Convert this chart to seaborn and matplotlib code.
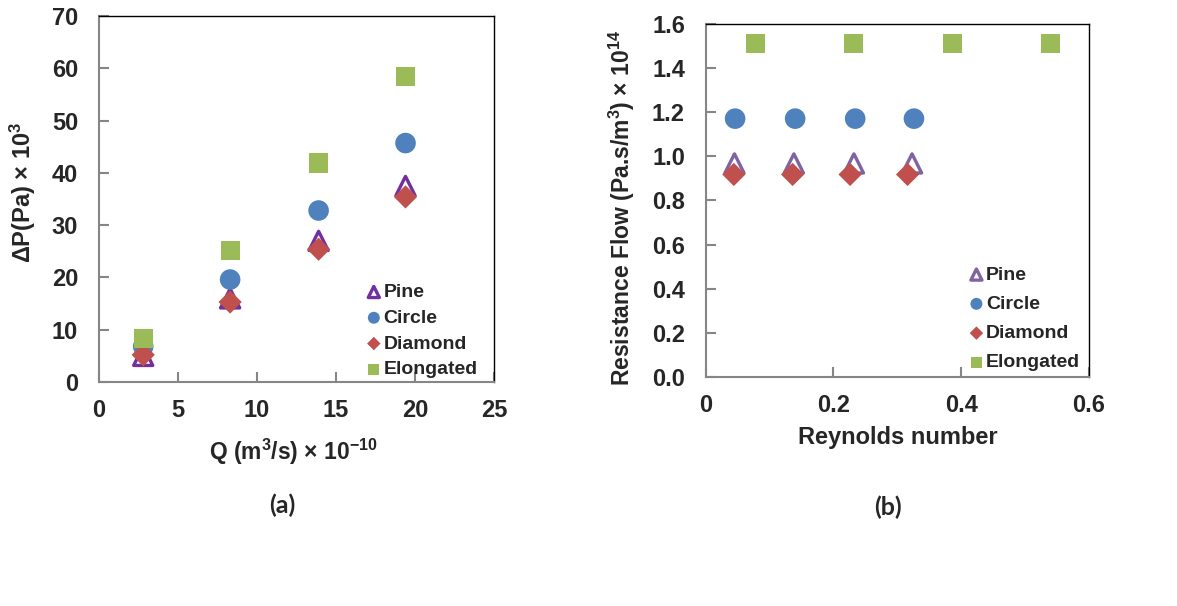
import numpy as np
import pandas as pd
import matplotlib
matplotlib.use('Agg')
import matplotlib.pyplot as plt
import seaborn as sns

# ---- data ----
series = ['Pine', 'Circle', 'Diamond', 'Elongated']

# (a) pressure drop vs flow rate
q_flow = [2.8, 8.3, 13.9, 19.4]
dp_pine = [5.0, 16.0, 27.0, 37.5]
dp_circle = [6.8, 19.6, 32.8, 45.7]
dp_diamond = [5.2, 15.3, 25.4, 35.4]
dp_elong = [8.4, 25.1, 41.9, 58.4]

# (b) flow resistance vs Reynolds number
re_pine = [0.045, 0.138, 0.232, 0.323]
re_circle = [0.046, 0.140, 0.234, 0.326]
re_diamond = [0.044, 0.136, 0.226, 0.316]
re_elong = [0.078, 0.232, 0.387, 0.540]
rf_pine = [0.968, 0.968, 0.968, 0.968]
rf_circle = [1.171, 1.171, 1.171, 1.171]
rf_diamond = [0.918, 0.918, 0.918, 0.918]
rf_elong = [1.511, 1.511, 1.511, 1.511]

xticks_a = [0, 5, 10, 15, 20, 25]
yticks_a = [0, 10, 20, 30, 40, 50, 60, 70]
xticks_b = [0, 0.2, 0.4, 0.6]
yticks_b = [0.0, 0.2, 0.4, 0.6, 0.8, 1.0, 1.2, 1.4, 1.6]

df_a = pd.DataFrame({
    'x': q_flow * 4,
    'y': dp_pine + dp_circle + dp_diamond + dp_elong,
    'shape': np.repeat(series, 4),
})
df_b = pd.DataFrame({
    'x': re_pine + re_circle + re_diamond + re_elong,
    'y': rf_pine + rf_circle + rf_diamond + rf_elong,
    'shape': np.repeat(series, 4),
})

sns.set_style('white')
plt.rcParams['font.family'] = ['Liberation Sans', 'DejaVu Sans']
plt.rcParams['font.weight'] = 'bold'
plt.rcParams['mathtext.fontset'] = 'custom'
plt.rcParams['mathtext.rm'] = 'Liberation Sans:bold'
plt.rcParams['mathtext.bf'] = 'Liberation Sans:bold'
plt.rcParams['mathtext.default'] = 'rm'

styles_a = {
    'Pine': dict(marker='^', s=190, facecolor='none', edgecolor='#7030A0', linewidth=2.4),
    'Circle': dict(marker='o', s=220, color='#4F81BD', edgecolor='none'),
    'Diamond': dict(marker='D', s=140, color='#C0504D', edgecolor='none'),
    'Elongated': dict(marker='s', s=190, color='#9BBB59', edgecolor='none'),
}
styles_b = dict(styles_a)
styles_b['Pine'] = dict(marker='^', s=190, facecolor='none', edgecolor='#8064A2', linewidth=2.4)

fig = plt.figure(figsize=(11.77, 6.06), dpi=100)
ax1 = fig.add_axes([0.0841, 0.3696, 0.3356, 0.6040])
ax2 = fig.add_axes([0.5996, 0.3779, 0.3256, 0.5825])


def draw(ax, df, styles):
    for name in series:
        sub = df[df['shape'] == name]
        sns.scatterplot(data=sub, x='x', y='y', ax=ax, label=name, **styles[name])


def frame(ax):
    for side in ['left', 'bottom']:
        ax.spines[side].set_color('#868686')
        ax.spines[side].set_linewidth(1.5)
    for side in ['top', 'right']:
        ax.spines[side].set_color('black')
        ax.spines[side].set_linewidth(1.0)
        ax.spines[side].set_visible(True)
    ax.tick_params(bottom=True, left=True, direction='in', length=7, width=1.5,
                   color='#868686', labelsize=17, pad=12)
    ax.tick_params(axis='y', pad=15)
    for lab in ax.get_xticklabels() + ax.get_yticklabels():
        lab.set_fontweight('bold')


draw(ax1, df_a, styles_a)
ax1.set_xlim(0, 25)
ax1.set_ylim(0, 70)
ax1.set_xticks(xticks_a)
ax1.set_yticks(yticks_a)
ax1.set_xticklabels([str(t) for t in xticks_a])
ax1.set_yticklabels([str(t) for t in yticks_a])
frame(ax1)
ax1.set_xlabel(r'Q (m$^{3}$/s) × 10$^{-10}$', fontsize=16.5, fontweight='bold', va='center')
ax1.set_ylabel(r'ΔP(Pa) × 10$^{3}$', fontsize=17, fontweight='bold', va='center')
ax1.xaxis.set_label_coords(0.491, -0.191)
ax1.yaxis.set_label_coords(-0.192, 0.519)
ax1.legend(loc='lower right', bbox_to_anchor=(1.003, -0.038), frameon=False,
           markerscale=0.58, handletextpad=0.0, labelspacing=0.42,
           handlelength=1.0, prop={'weight': 'bold', 'size': 14})

draw(ax2, df_b, styles_b)
ax2.set_xlim(0, 0.6)
ax2.set_ylim(0, 1.6)
ax2.set_xticks(xticks_b)
ax2.set_yticks(yticks_b)
ax2.set_xticklabels(['0', '0.2', '0.4', '0.6'])
ax2.set_yticklabels([f'{t:.1f}' for t in yticks_b])
frame(ax2)
ax2.set_xlabel('Reynolds number', fontsize=17, fontweight='bold', va='center')
ax2.set_ylabel(r'Resistance Flow (Pa.s/m$^{3}$) × 10$^{14}$', fontsize=16.5,
               fontweight='bold', va='center')
ax2.xaxis.set_label_coords(0.502, -0.170)
ax2.yaxis.set_label_coords(-0.218, 0.479)
ax2.legend(loc='lower right', bbox_to_anchor=(1.023, -0.034), frameon=False,
           markerscale=0.58, handletextpad=0.0, labelspacing=0.6,
           handlelength=1.0, prop={'weight': 'bold', 'size': 14})

fig.text(0.2396, 0.1667, '(a)', fontsize=18, fontweight='bold', family='Lato',
         ha='center', va='center')
fig.text(0.7545, 0.1634, '(b)', fontsize=18, fontweight='bold', family='Lato',
         ha='center', va='center')

fig.savefig('out.png', dpi=100)
